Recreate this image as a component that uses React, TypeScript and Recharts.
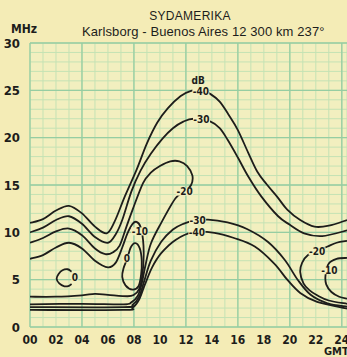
import React from 'react';
import { LineChart, Line, XAxis, YAxis, CartesianGrid, ReferenceDot } from 'recharts';

type P = [number, number];

// axis ticks
const hourTicks = Array.from({ length: 25 }, (_, i) => i);
const mhzTicks = Array.from({ length: 31 }, (_, i) => i);
const majorHours = [0, 4, 8, 12, 16, 20, 24];
const majorMhz = [0, 5, 10, 15, 20, 25, 30];

// contour lines (hour GMT, MHz)
const m40Upper: P[] = [
  [0, 11.0], [1, 11.4], [2, 12.3], [3, 12.8], [4, 12.0], [5, 10.6], [5.9, 9.9], [6.5, 11.1], [7.3, 13.8],
  [8.2, 16.6], [9.0, 19.4], [9.8, 21.6], [10.6, 23.1], [11.6, 24.4], [12.4, 24.95], [13.2, 25.0],
  [13.9, 24.6], [14.6, 23.8], [15.3, 22.4], [16.0, 20.8], [16.8, 18.4], [17.5, 16.4], [18.2, 15.1],
  [19.0, 13.8], [19.8, 12.4], [20.8, 11.3], [21.9, 10.6], [23.0, 10.7], [24.4, 11.3],
];
const m30Upper: P[] = [
  [0, 10.0], [1, 10.5], [2, 11.3], [3, 11.7], [4, 10.9], [5, 9.5], [6.0, 8.9], [6.6, 9.8], [7.1, 11.3],
  [7.8, 14.3], [8.5, 16.5], [9.3, 18.3], [10.2, 19.9], [11.0, 21.0], [11.8, 21.7], [12.6, 22.0],
  [13.9, 21.7], [14.6, 21.0], [15.2, 19.8], [16.0, 17.9], [16.8, 15.9], [17.8, 13.8], [19.1, 11.7],
  [20.0, 10.8], [21.1, 9.9], [22.5, 9.6], [24.4, 10.2],
];
const m20Main: P[] = [
  [0, 8.9], [1, 9.4], [2, 10.1], [3, 10.4], [4, 9.7], [5, 8.3], [5.8, 7.7], [6.4, 7.9], [6.9, 8.6],
  [7.4, 10.5], [7.9, 12.4], [8.7, 15.2], [9.3, 16.3], [10.0, 17.0], [10.8, 17.5], [11.5, 17.5],
  [12.1, 17.0], [12.5, 16.0], [12.4, 15.0], [11.9, 14.3], [11.2, 13.6], [10.1, 11.0], [9.3, 8.8],
  [8.9, 6.6], [8.6, 4.6], [8.3, 3.3], [7.8, 2.6], [7.2, 2.4], [4, 2.45], [0, 2.4],
];
const m10Main: P[] = [
  [0, 7.2], [1, 7.6], [2, 8.4], [3, 8.9], [4, 8.3], [5, 7.0], [6.0, 6.3], [6.6, 6.8], [7.1, 8.4],
  [7.5, 9.9], [7.9, 10.9], [8.2, 11.1], [8.5, 10.6], [8.7, 9.2], [8.75, 7.5], [8.65, 5.5], [8.4, 4.0],
  [8.0, 3.4], [7.5, 3.25], [6, 3.4], [5, 3.5], [4, 3.35], [2, 3.2], [0, 3.2],
];
const m10Right: P[] = [
  [24.4, 7.3], [23.6, 7.2], [23.0, 6.7], [22.75, 5.5], [22.8, 4.5], [23.2, 3.7], [23.8, 3.2], [24.4, 3.0],
];
const m20Right: P[] = [
  [24.4, 9.1], [23.6, 8.9], [22.9, 8.5], [22.1, 8.0], [21.4, 7.6], [20.95, 6.8], [20.8, 5.8],
  [21.05, 4.6], [21.5, 3.9], [22.1, 3.35], [23.0, 2.8], [24.4, 2.45],
];
const m30Lower: P[] = [
  [0, 2.1], [7.2, 2.1], [7.9, 2.35], [8.4, 3.2], [8.8, 4.9], [9.3, 7.0], [10.1, 9.0], [11.0, 10.3],
  [11.8, 10.9], [12.6, 11.2], [13.7, 11.35], [15.2, 11.05], [16.7, 10.35], [18.3, 9.0], [19.6, 7.1],
  [20.6, 5.0], [21.6, 3.4], [22.9, 2.5], [24.4, 2.15],
];
const m40Lower: P[] = [
  [0, 1.8], [7.2, 1.8], [7.9, 2.05], [8.4, 2.9], [8.85, 4.5], [9.4, 6.3], [10.1, 7.8], [11.2, 9.2],
  [12.5, 10.0], [14.2, 9.95], [15.7, 9.4], [17.3, 8.5], [18.8, 6.7], [19.8, 5.0], [20.8, 3.6],
  [22.1, 2.65], [24.4, 1.95],
];
const zeroMorning: P[] = [
  [8.1, 8.85], [7.75, 8.4], [7.5, 7.3], [7.2, 6.2], [7.1, 5.3], [7.35, 4.4], [7.9, 3.95], [8.35, 4.3],
  [8.55, 5.5], [8.6, 7.0], [8.45, 8.3],
];
const zeroNight: P[] = [
  [3.2, 5.85], [2.9, 6.1], [2.5, 6.0], [2.2, 5.6], [2.05, 5.1], [2.25, 4.6], [2.65, 4.3], [3.0, 4.35], [3.2, 4.55],
];

// contour labels
const labelText = ['dB', '-40', '-30', '-20', '-30', '-40', '-10', '0', '0', '-20', '-10'];
const labelHour = [12.95, 13.15, 13.2, 11.9, 12.9, 12.85, 8.45, 7.45, 3.45, 22.1, 23.05];
const labelMhz = [26.1, 24.85, 21.9, 14.3, 11.3, 10.0, 10.1, 7.25, 5.2, 8.0, 6.0];

const PAGE_BG = '#f4ecb6';
const PLOT_BG = '#f2efbf';
const MINOR = '#c4e2b4';
const MAJOR = '#96cda2';
const INK = '#1d1d1b';
const FONT = '"Liberation Sans Narrow", "DejaVu Sans Condensed", sans-serif';

const rows = (pts: P[]) => pts.map(([h, f]) => ({ h, f }));

function catmull(closed: boolean) {
  return function (context: any) {
    let pts: number[][] = [];
    return {
      areaStart() {},
      areaEnd() {},
      lineStart() {
        pts = [];
      },
      point(x: number, y: number) {
        pts.push([+x, +y]);
      },
      lineEnd() {
        const n = pts.length;
        if (n === 0) return;
        context.moveTo(pts[0][0], pts[0][1]);
        const get = (i: number) => (closed ? pts[(i + n) % n] : pts[Math.max(0, Math.min(n - 1, i))]);
        const segs = closed ? n : n - 1;
        for (let i = 0; i < segs; i++) {
          const p0 = get(i - 1);
          const p1 = get(i);
          const p2 = get(i + 1);
          const p3 = get(i + 2);
          context.bezierCurveTo(
            p1[0] + (p2[0] - p0[0]) / 6,
            p1[1] + (p2[1] - p0[1]) / 6,
            p2[0] - (p3[0] - p1[0]) / 6,
            p2[1] - (p3[1] - p1[1]) / 6,
            p2[0],
            p2[1],
          );
        }
        if (closed) context.closePath();
      },
    };
  };
}
const openCurve = catmull(false);
const closedCurve = catmull(true);

const contours: { name: string; pts: P[]; closed: boolean }[] = [
  { name: 'm40Upper', pts: m40Upper, closed: false },
  { name: 'm30Upper', pts: m30Upper, closed: false },
  { name: 'm20Main', pts: m20Main, closed: false },
  { name: 'm10Main', pts: m10Main, closed: false },
  { name: 'm10Right', pts: m10Right, closed: false },
  { name: 'm20Right', pts: m20Right, closed: false },
  { name: 'm30Lower', pts: m30Lower, closed: false },
  { name: 'm40Lower', pts: m40Lower, closed: false },
  { name: 'zeroMorning', pts: zeroMorning, closed: true },
  { name: 'zeroNight', pts: zeroNight, closed: false },
];

const LabelMark = (props: any) => {
  const { cx, cy, text } = props;
  if (cx == null || cy == null) return null;
  const w = text.length * 5 + 2;
  return (
    <g>
      {text !== 'dB' && <rect x={cx - w / 2} y={cy - 4} width={w} height={8} fill={PLOT_BG} />}
      <text x={cx} y={cy} dy="0.36em" textAnchor="middle" fontSize={10} fontFamily={FONT} fontWeight={700} fill={INK}>
        {text}
      </text>
    </g>
  );
};

export default function App() {
  return (
    <div style={{ position: 'absolute', left: 0, top: 0, width: 347, height: 357, background: PAGE_BG, overflow: 'hidden' }}>
      <div style={{ position: 'absolute', left: 0, width: 380, top: 9, textAlign: 'center', fontFamily: '"Liberation Sans", sans-serif', fontSize: 12, color: INK, letterSpacing: 0.3 }}>
        SYDAMERIKA
      </div>
      <div style={{ position: 'absolute', left: 82, top: 24, fontFamily: '"Liberation Sans", sans-serif', fontSize: 13, color: INK, whiteSpace: 'nowrap', letterSpacing: 0.1 }}>
        Karlsborg - Buenos Aires 12 300 km 237°
      </div>
      <div style={{ position: 'absolute', left: 11, top: 22, fontFamily: FONT, fontWeight: 700, fontSize: 12, color: INK }}>MHz</div>
      <div style={{ position: 'absolute', left: 324, top: 345, fontFamily: FONT, fontWeight: 700, fontSize: 11, color: INK }}>GMT</div>
      <LineChart width={347} height={357} margin={{ top: 43, right: 0, bottom: 0, left: 0 }} style={{ position: 'absolute', left: 0, top: 0 }}>
        <CartesianGrid stroke={MINOR} strokeWidth={1} fill={PLOT_BG} fillOpacity={1} />
        <CartesianGrid stroke={MAJOR} strokeWidth={1.3} verticalValues={majorHours} horizontalValues={majorMhz} />
        <XAxis
          type="number"
          dataKey="h"
          domain={[0, 24.4]}
          allowDataOverflow
          ticks={hourTicks}
          interval={0}
          height={30}
          axisLine={false}
          tickLine={false}
          tickSize={6}
          tickMargin={2}
          tickFormatter={(v: number) => (v % 2 === 0 ? String(v).padStart(2, '0') : '')}
          tick={{ fontSize: 12, fontFamily: FONT, fontWeight: 700, fill: INK }}
        />
        <YAxis
          type="number"
          dataKey="f"
          domain={[0, 30]}
          allowDataOverflow
          ticks={mhzTicks}
          interval={0}
          width={30}
          axisLine={false}
          tickLine={false}
          tickSize={6}
          tickMargin={4}
          tickFormatter={(v: number) => (v % 5 === 0 ? String(v) : '')}
          tick={{ fontSize: 13, fontFamily: FONT, fontWeight: 700, fill: INK }}
        />
        {contours.map((c) => (
          <Line
            key={c.name}
            data={rows(c.pts)}
            dataKey="f"
            type={c.closed ? closedCurve : openCurve}
            stroke={INK}
            strokeWidth={1.8}
            dot={false}
            activeDot={false}
            isAnimationActive={false}
          />
        ))}
        {labelText.map((t, i) => (
          <ReferenceDot
            key={'lbl' + i}
            x={labelHour[i]}
            y={labelMhz[i]}
            r={0}
            shape={(p: any) => <LabelMark {...p} text={t} />}
          />
        ))}
      </LineChart>
    </div>
  );
}
